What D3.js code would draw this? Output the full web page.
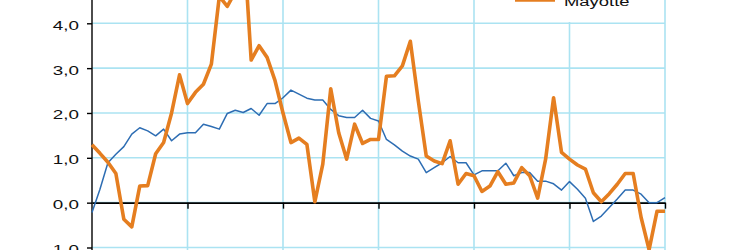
<!DOCTYPE html>
<html>
<head>
<meta charset="utf-8">
<script src="https://cdn.jsdelivr.net/npm/d3@7"></script>
<style>
  html, body { margin: 0; padding: 0; background: #fff; }
  svg { display: block; }
  text { font-family: "Liberation Sans", Arial, sans-serif; font-size: 13px; fill: #111; }
</style>
</head>
<body>
<svg id="chart" width="732" height="250"></svg>
<script>
// Monthly index positions (0..72), yearly gridlines every 12 months
const months = d3.range(0, 73);
const yearTicks = [12, 24, 36, 48, 60, 72];
const yTickValues = [-1, 0, 1, 2, 3, 4];
const yGridValues = [-1, 0, 1, 2, 3, 4, 5];
const seriesNames = ["France", "Mayotte"];

const franceValues = [
  -0.22, 0.30, 0.89, 1.08, 1.25, 1.53, 1.67, 1.60, 1.49, 1.64, 1.38, 1.53,
  1.56, 1.56, 1.75, 1.70, 1.64, 1.99, 2.06, 2.01, 2.10, 1.95, 2.21, 2.21,
  2.34, 2.51, 2.42, 2.33, 2.29, 2.29, 2.08, 1.94, 1.90, 1.90, 2.06, 1.88,
  1.82, 1.41, 1.29, 1.15, 1.04, 0.97, 0.67, 0.78, 0.89, 1.03, 0.89, 0.89,
  0.62, 0.71, 0.71, 0.71, 0.88, 0.60, 0.67, 0.67, 0.48, 0.48, 0.42, 0.28,
  0.47, 0.30, 0.10, -0.42, -0.30, -0.11, 0.08, 0.28, 0.28, 0.19, 0.00, 0.00,
  0.11
];

const mayotteValues = [
  1.29, 1.10, 0.90, 0.65, -0.37, -0.54, 0.37, 0.38, 1.09, 1.34, 2.00, 2.85,
  2.21, 2.46, 2.64, 3.09, 4.60, 4.38, 4.70, 6.00, 3.18, 3.50, 3.24, 2.72,
  2.00, 1.34, 1.44, 1.30, 0.02, 0.86, 2.54, 1.56, 0.97, 1.75, 1.32, 1.41,
  1.41, 2.82, 2.83, 3.05, 3.60, 2.27, 1.04, 0.93, 0.87, 1.38, 0.41, 0.65,
  0.60, 0.25, 0.37, 0.69, 0.41, 0.44, 0.78, 0.60, 0.10, 0.97, 2.34, 1.12,
  0.97, 0.84, 0.75, 0.22, 0.02, 0.20, 0.41, 0.65, 0.65, -0.33, -1.05, -0.19,
  -0.19
];

const svg = d3.select("#chart");
const x = d3.scaleLinear().domain([0, 72]).range([92, 665]);
const y = d3.scaleLinear().domain([-1, 4]).range([247.5, 23.3]);

const gridColor = "#abe3f2";
const blue = "#2d6db3";
const orange = "#e57e20";

// Horizontal gridlines
svg.append("g").selectAll("line").data(yGridValues).join("line")
  .attr("x1", x(0)).attr("x2", x(72))
  .attr("y1", d => y(d)).attr("y2", d => y(d))
  .attr("stroke", gridColor).attr("stroke-width", 1.6);

// Vertical gridlines
svg.append("g").selectAll("line").data(yearTicks).join("line")
  .attr("x1", d => x(d)).attr("x2", d => x(d))
  .attr("y1", y(5.6)).attr("y2", y(-1.4))
  .attr("stroke", gridColor).attr("stroke-width", 1.6);

// Legend box (covers the gridlines)
const legend = svg.append("g");
legend.append("rect")
  .attr("x", 505).attr("y", -30).attr("width", 156).attr("height", 52)
  .attr("fill", "#fff");
legend.append("line")
  .attr("x1", 515).attr("x2", 555).attr("y1", 0).attr("y2", 0)
  .attr("stroke", orange).attr("stroke-width", 3.6);
legend.append("text")
  .attr("transform", "translate(564,5.5) scale(1.42,1)")
  .text(seriesNames[1]);

// Y axis line
svg.append("line")
  .attr("x1", x(0)).attr("x2", x(0)).attr("y1", -5).attr("y2", 260)
  .attr("stroke", "#000").attr("stroke-width", 1.4);

const fmt = v => {
  const s = d3.format(".1f")(Math.abs(v)).replace(".", ",");
  return v < 0 ? "- " + s : s;
};

const yAxis = svg.append("g")
  .attr("transform", `translate(${x(0)},0)`)
  .call(d3.axisLeft(y).tickValues(yTickValues).tickSize(5).tickSizeOuter(0).tickFormat(fmt));
yAxis.select(".domain").remove();
yAxis.selectAll(".tick line").attr("stroke", "#000").attr("stroke-width", 1.4);
yAxis.selectAll(".tick text")
  .attr("x", null).attr("dy", null)
  .attr("text-anchor", "end")
  .attr("transform", "translate(-13,6) scale(1.45,1)")
  .style("font-family", "'Liberation Sans', Arial, sans-serif")
  .style("font-size", "13px")
  .attr("fill", "#111");

// X axis (zero line with yearly ticks)
const xAxis = svg.append("g")
  .attr("transform", `translate(0,${y(0)})`)
  .call(d3.axisBottom(x).tickValues(yearTicks).tickSize(6).tickSizeOuter(0).tickFormat(""));
xAxis.select(".domain").attr("stroke", "#000").attr("stroke-width", 1.6);
xAxis.selectAll(".tick line").attr("stroke", "#000").attr("stroke-width", 1.4);

// Lines
const line = d3.line().x((d, i) => x(months[i])).y(d => y(d));

svg.append("path").datum(franceValues)
  .attr("d", line).attr("fill", "none")
  .attr("stroke", blue).attr("stroke-width", 1.5)
  .attr("stroke-linejoin", "round");

svg.append("path").datum(mayotteValues)
  .attr("d", line).attr("fill", "none")
  .attr("stroke", orange).attr("stroke-width", 3.6)
  .attr("stroke-linejoin", "round");
</script>
</body>
</html>
